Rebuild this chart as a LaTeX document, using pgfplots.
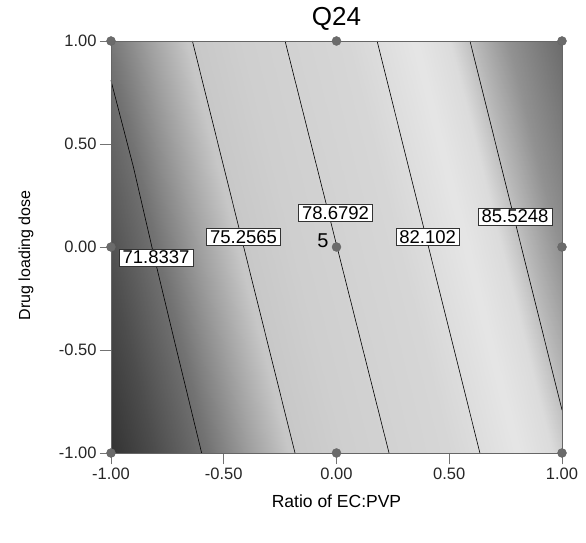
\documentclass[border=0pt]{standalone}
\usepackage{fontspec}
\setmainfont{Liberation Sans}
\usepackage{pgfplots}
\usepackage{pgfplotstable}
\pgfplotsset{compat=1.18}
% Response surface values Q24 (x = Ratio of EC:PVP, y = Drug loading dose)
\pgfplotstableread{
x y z
-1.0 -1 68.36
-0.9 -1 69.20
-0.8 -1 70.04
-0.7 -1 70.88
-0.6 -1 71.72
-0.5 -1 72.56
-0.4 -1 73.39
-0.3 -1 74.23
-0.2 -1 75.07
-0.1 -1 75.91
0.0 -1 76.75
0.1 -1 77.59
0.2 -1 78.43
0.3 -1 79.27
0.4 -1 80.11
0.5 -1 80.95
0.6 -1 81.78
0.7 -1 82.62
0.8 -1 83.46
0.9 -1 84.30
1.0 -1 85.14
-1.0 -0.5 69.32
-0.9 -0.5 70.15
-0.8 -0.5 70.99
-0.7 -0.5 71.83
-0.6 -0.5 72.67
-0.5 -0.5 73.51
-0.4 -0.5 74.35
-0.3 -0.5 75.19
-0.2 -0.5 76.03
-0.1 -0.5 76.87
0.0 -0.5 77.71
0.1 -0.5 78.54
0.2 -0.5 79.38
0.3 -0.5 80.22
0.4 -0.5 81.06
0.5 -0.5 81.90
0.6 -0.5 82.74
0.7 -0.5 83.58
0.8 -0.5 84.42
0.9 -0.5 85.26
1.0 -0.5 86.10
-1.0 0 70.27
-0.9 0 71.11
-0.8 0 71.95
-0.7 0 72.79
-0.6 0 73.63
-0.5 0 74.47
-0.4 0 75.30
-0.3 0 76.14
-0.2 0 76.98
-0.1 0 77.82
0.0 0 78.66
0.1 0 79.50
0.2 0 80.34
0.3 0 81.18
0.4 0 82.02
0.5 0 82.86
0.6 0 83.69
0.7 0 84.53
0.8 0 85.37
0.9 0 86.21
1.0 0 87.05
-1.0 0.5 71.23
-0.9 0.5 72.06
-0.8 0.5 72.90
-0.7 0.5 73.74
-0.6 0.5 74.58
-0.5 0.5 75.42
-0.4 0.5 76.26
-0.3 0.5 77.10
-0.2 0.5 77.94
-0.1 0.5 78.78
0.0 0.5 79.62
0.1 0.5 80.45
0.2 0.5 81.29
0.3 0.5 82.13
0.4 0.5 82.97
0.5 0.5 83.81
0.6 0.5 84.65
0.7 0.5 85.49
0.8 0.5 86.33
0.9 0.5 87.17
1.0 0.5 88.01
-1.0 1 72.18
-0.9 1 73.02
-0.8 1 73.86
-0.7 1 74.70
-0.6 1 75.54
-0.5 1 76.38
-0.4 1 77.21
-0.3 1 78.05
-0.2 1 78.89
-0.1 1 79.73
0.0 1 80.57
0.1 1 81.41
0.2 1 82.25
0.3 1 83.09
0.4 1 83.93
0.5 1 84.77
0.6 1 85.60
0.7 1 86.44
0.8 1 87.28
0.9 1 88.12
1.0 1 88.96
}\surfdata
\begin{document}
\begin{tikzpicture}
\useasboundingbox (-111pt,-90pt) rectangle (475pt,453pt);
\begin{axis}[
  at={(0pt,0pt)}, anchor=south west,
  scale only axis, width=451pt, height=412pt,
  view={0}{90},
  xmin=-1, xmax=1, ymin=-1, ymax=1,
  xtick={-1,-0.5,0,0.5,1}, ytick={-1,-0.5,0,0.5,1}, ztick=\empty,
  xticklabels={-1.00,-0.50,0.00,0.50,1.00},
  yticklabels={-1.00,-0.50,0.00,0.50,1.00},
  xtick pos=left, ytick pos=left,
  tick align=outside, major tick length=11pt,
  tick style={draw=black!55, line width=0.7pt},
  ticklabel style={font=\fontsize{16.5}{18}\selectfont, text=black!85},
  axis line style={draw=black!60, line width=0.8pt},
  axis on top,
  clip=false,
  colormap={de}{gray(0cm)=(0.2); gray(1.64cm)=(0.3); gray(3.64cm)=(0.45); gray(5.24cm)=(0.63); gray(6.64cm)=(0.78); gray(8.64cm)=(0.81); gray(12.64cm)=(0.84); gray(15.14cm)=(0.9); gray(16.44cm)=(0.86); gray(17.4cm)=(0.72); gray(18.6cm)=(0.57); gray(20.6cm)=(0.42)},
  point meta min=68.36, point meta max=88.96,
  title={Q24},
  title style={at={(axis description cs:0.5,1.022)}, anchor=base, font=\fontsize{26}{28}\selectfont},
  xlabel={Ratio of EC:PVP},
  ylabel={Drug loading dose},
  every axis x label/.style={at={(axis description cs:0.5,-0.118)}, anchor=center, font=\fontsize{17.5}{20}\selectfont},
  every axis y label/.style={at={(axis description cs:-0.1885,0.48)}, anchor=center, rotate=90, font=\fontsize{16}{18}\selectfont},
]
\addplot3[surf, shader=interp, mesh/rows=5, mesh/cols=21] table[x=x, y=y, z=z] {\surfdata};

% contour lines
\addplot3[black, line width=0.6pt, no marks] coordinates {(-1,0.81,0) (-0.997,0.795,0) (-0.901,0.390,0) (-0.812,-0.031,0) (-0.709,-0.5,0) (-0.598,-1,0)};
\addplot3[black, line width=0.6pt, no marks] coordinates {(-0.639,1,0) (-0.184,-1,0)};
\addplot3[black, line width=0.6pt, no marks] coordinates {(-0.228,1,0) (0.233,-1,0)};
\addplot3[black, line width=0.6pt, no marks] coordinates {(0.180,1,0) (0.636,-1,0)};
\addplot3[black, line width=0.6pt, no marks] coordinates {(0.592,1,0) (1.0,-0.791,0)};

% design points
\addplot3[only marks, mark=*, mark size=4.5pt, mark options={draw=black!60, fill=black!58}] coordinates {
(-1,-1,0) (0,-1,0) (1,-1,0) (-1,0,0) (0,0,0) (1,0,0) (-1,1,0) (0,1,0) (1,1,0)};

\tikzset{clab/.style={draw=black!80, line width=0.6pt, fill=white, inner xsep=3.5pt, inner ysep=2pt, font=\fontsize{18.5}{19}\selectfont}}
\node[clab] at (axis cs:-0.800,-0.051,0) {71.8337};
\node[clab] at (axis cs:-0.412,0.049,0) {75.2565};
\node[clab] at (axis cs:-0.004,0.165,0) {78.6792};
\node[clab] at (axis cs:0.404,0.049,0) {82.102};
\node[clab] at (axis cs:0.792,0.148,0) {85.5248};
\node[font=\fontsize{20}{22}\selectfont] at (axis cs:-0.060,0.029,0) {5};
\end{axis}
\end{tikzpicture}
\end{document}
